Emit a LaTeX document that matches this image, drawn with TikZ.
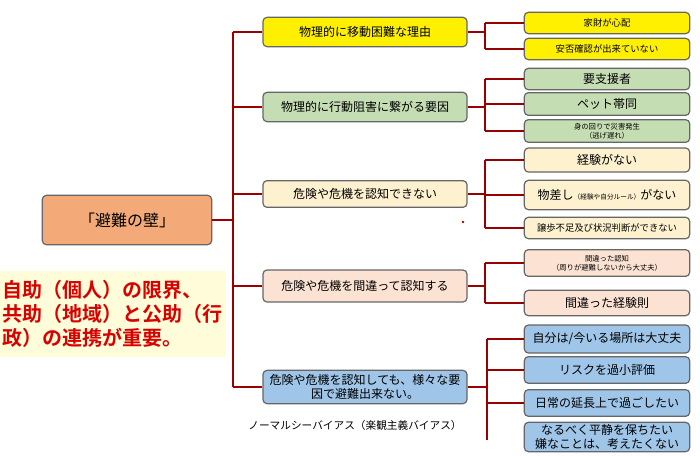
\documentclass[tikz,border=0pt]{standalone}
\usepackage{fontspec}
\setmainfont{Noto Sans CJK JP}
\newfontfamily\jpb{Noto Sans CJK JP Bold}
\begin{document}
\begin{tikzpicture}[x=0.75pt,y=-0.75pt,
 bx/.style={draw=black!60,line width=0.9pt,rounded corners=3pt,align=center,inner sep=1pt},
 ln/.style={draw=red!60!black,line width=1.6pt}]
\useasboundingbox (0,0) rectangle (700,455);
\definecolor{cy}{HTML}{FFF000}\definecolor{cg}{HTML}{C5DDB3}\definecolor{cc}{HTML}{FDF1CF}
\definecolor{cp}{HTML}{FBE2D3}\definecolor{cb}{HTML}{9FC5E8}\definecolor{co}{HTML}{F4AA78}
\node[bx,fill=co,minimum width=127pt,minimum height=37pt] (root) at (127,220) {\large 「避難の壁」};
\node[fill=orange!15!yellow!15,minimum width=169pt,minimum height=64pt,align=left,text=red!85!black,inner sep=2pt,anchor=west,font=\jpb\fontsize{15}{18}\selectfont] (note) at (0,314) {自助（個人）の限界、\\共助（地域）と公助（行\\政）の連携が重要。};
\coordinate (tt) at (233,32); \coordinate (tb) at (233,387);
\foreach \n/\y/\c/\h/\t in {m1/32/cy/22/物理的に移動困難な理由, m2/107/cg/22/物理的に行動阻害に繋がる要因, m3/194/cc/20/危険や危機を認知できない, m4/286/cp/24/危険や危機を間違って認知する, m5/387/cb/25/{危険や危機を認知しても、様々な要\\因で避難出来ない。}}
 \node[bx,fill=\c,minimum width=153pt,minimum height=\h pt,font=\small] (\n) at (365,\y) {\t};
\draw[ln] (tt) -- (tb);
\draw[ln] (root.east) -- (root.east-|tt);
\foreach \n in {m1,m2,m3,m4,m5} \draw[ln] (\n.west-|tt) -- (\n.west);
\node[font=\footnotesize] (nb) at (355,425) {ノーマルシーバイアス（楽観主義バイアス）};
\foreach \n/\y/\c/\h/\f/\t in {
 a1/23/cy/16/\scriptsize/家財が心配, a2/49/cy/16/\scriptsize/安否確認が出来ていない,
 b1/79/cg/16/\small/要支援者, b2/104/cg/17/\small/ペット帯同, b3/131/cg/17/{\fontsize{5.5}{6.5}\selectfont}/{身の回りで災害発生\\（逃げ遅れ）},
 c1/160/cc/18/\small/経験がない, c2/195/cc/22/\small/{物差し{\tiny（経験や自分ルール）}がない}, c3/228/cc/16/\scriptsize/譲歩不足及び状況判断ができない,
 d1/263/cp/20/{\fontsize{5.5}{6.5}\selectfont}/{間違った認知\\（周りが避難しないから大丈夫）}, d2/303/cp/19/\small/間違った経験則,
 e1/339/cb/21/\small/{自分は{/}今いる場所は大丈夫}, e2/370/cb/20/\small/リスクを過小評価, e3/403/cb/20/\small/日常の延長上で過ごしたい, e4/437/cb/22/\small/{なるべく平静を保ちたい\\嫌なことは、考えたくない}}
 \node[bx,fill=\c,minimum width=124pt,minimum height=\h pt,font=\f] (\n) at (607,\y) {\t};
\coordinate (g1) at (485,23);\coordinate (g1b) at (485,49);
\draw[ln] (m1.east) -- (m1.east-|g1); \draw[ln] (g1) -- (g1b);
\draw[ln] (a1.west-|g1) -- (a1.west); \draw[ln] (a2.west-|g1) -- (a2.west);
\coordinate (g2) at (485,79);\coordinate (g2b) at (485,131);
\draw[ln] (m2.east) -- (m2.east-|g2); \draw[ln] (g2) -- (g2b);
\foreach \n in {b1,b2,b3} \draw[ln] (\n.west-|g2) -- (\n.west);
\coordinate (g3) at (485,160);\coordinate (g3b) at (485,228);
\draw[ln] (m3.east) -- (m3.east-|g3); \draw[ln] (g3) -- (g3b);
\foreach \n in {c1,c2,c3} \draw[ln] (\n.west-|g3) -- (\n.west);
\coordinate (g4) at (485,263);\coordinate (g4b) at (485,303);
\draw[ln] (m4.east) -- (m4.east-|g4); \draw[ln] (g4) -- (g4b);
\foreach \n in {d1,d2} \draw[ln] (\n.west-|g4) -- (\n.west);
\coordinate (g5) at (487,339);\coordinate (g5b) at (487,440);
\draw[ln] (m5.east) -- (m5.east-|g5); \draw[ln] (g5) -- (g5b);
\foreach \n in {e1,e2,e3} \draw[ln] (\n.west-|g5) -- (\n.west);
\fill[red!70!black] (463,222) circle (1pt);
\end{tikzpicture}
\end{document}
